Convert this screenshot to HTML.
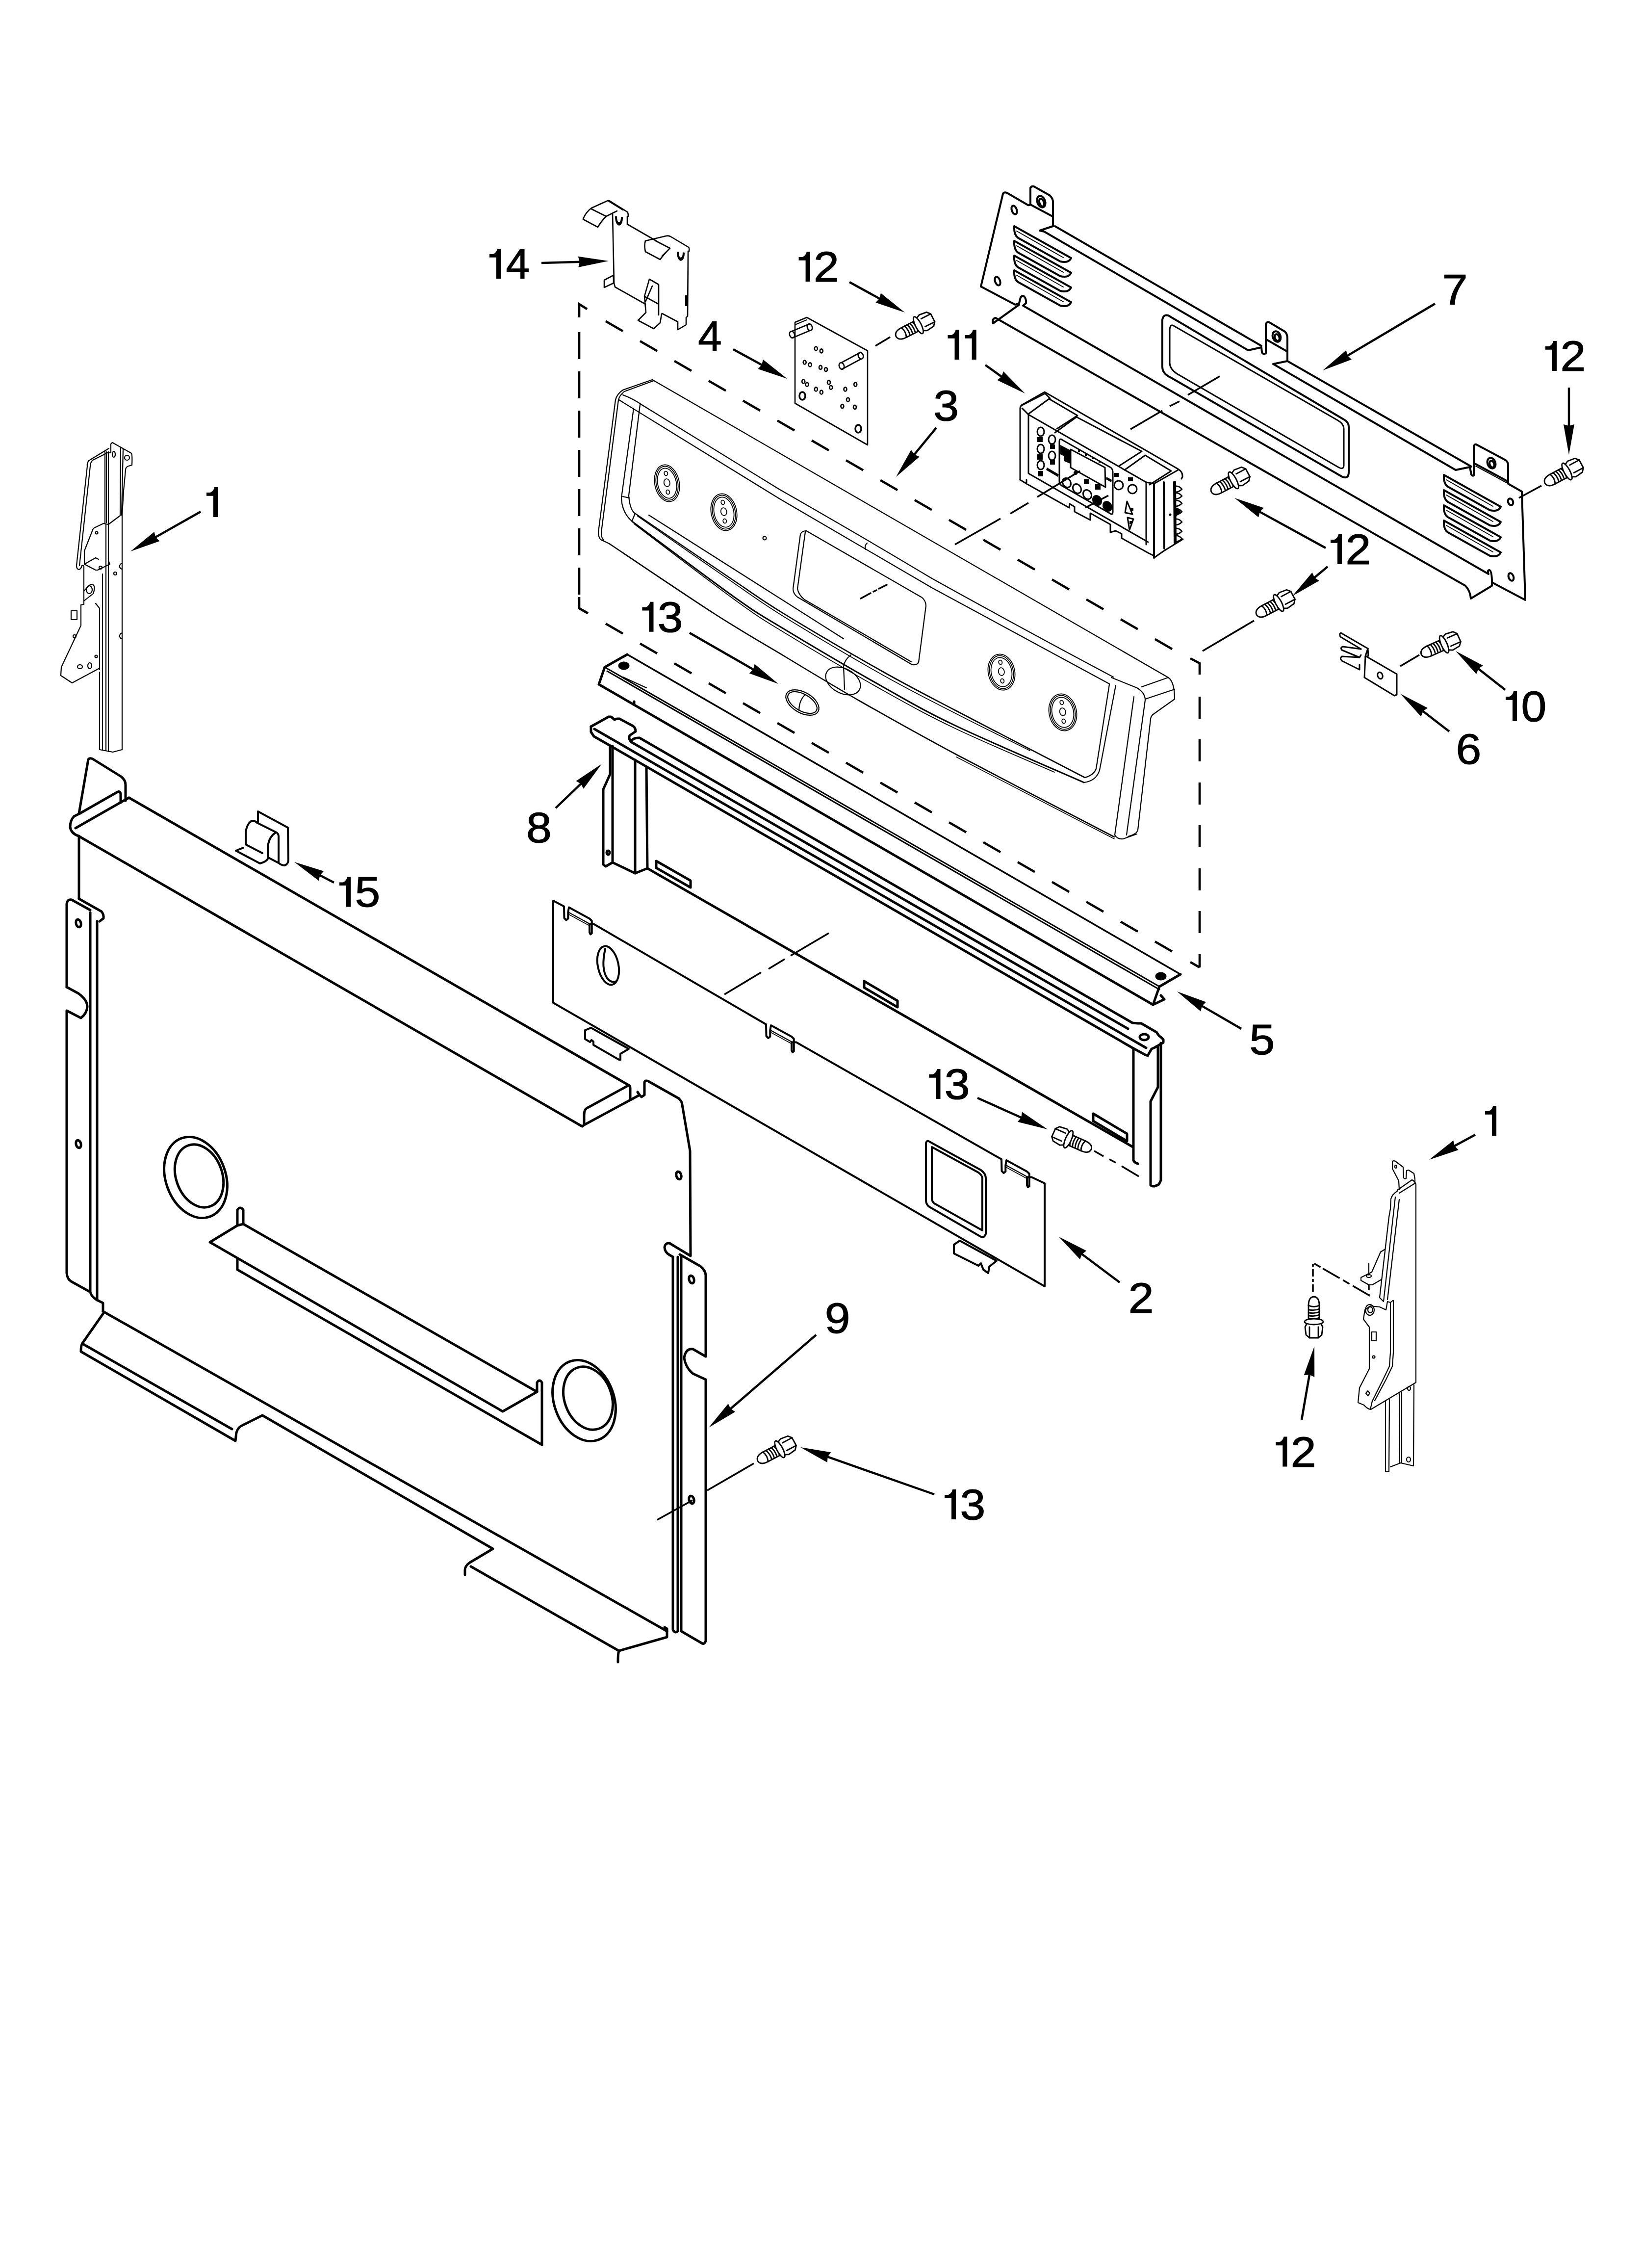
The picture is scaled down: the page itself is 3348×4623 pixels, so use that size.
<!DOCTYPE html>
<html><head><meta charset="utf-8"><style>
html,body{margin:0;padding:0;background:#fff;}
svg{display:block;}
text{font-family:"Liberation Sans",sans-serif;fill:#000;stroke:#000;stroke-width:1.2;}
.g1{fill:#000;stroke:none;}
.k{fill:none;stroke:#000;stroke-width:5;stroke-linejoin:round;stroke-linecap:round;}
.m{fill:none;stroke:#000;stroke-width:3.5;stroke-linejoin:round;stroke-linecap:round;}
.t{fill:none;stroke:#000;stroke-width:2.5;stroke-linejoin:round;stroke-linecap:round;}
.ar{fill:none;stroke:#000;stroke-width:4.5;}
.ah{fill:#000;stroke:none;}
.dl{fill:none;stroke:#000;stroke-width:4;stroke-dasharray:55 26;}
.dd{fill:none;stroke:#000;stroke-width:4.6;}
</style></head><body>
<svg width="3348" height="4623" viewBox="0 0 3348 4623">
<path class="g1" d="M1012.0,568 L1021.1,568 L1021.1,507 L1014.2,507 Q1012.8,514.5 1005.7,518 L998.0,518 L998.0,524.7 L1012.0,524.7 Z"/><text transform="translate(1031.4 568) scale(1.0 1)" font-size="87">4</text><path class="g1" d="M435.0,1054 L444.1,1054 L444.1,993 L437.2,993 Q435.8,1000.5 428.7,1004 L421.0,1004 L421.0,1010.7 L435.0,1010.7 Z"/><text transform="translate(1423.3 716) scale(1.0 1)" font-size="87">4</text><path class="g1" d="M1642.6,574 L1651.7,574 L1651.7,513 L1644.8,513 Q1643.4,520.5 1636.3,524 L1628.6,524 L1628.6,530.7 L1642.6,530.7 Z"/><text transform="translate(1659.0 574) scale(1.07 1)" font-size="87">2</text><path class="g1" d="M1946.5,733 L1955.6,733 L1955.6,672 L1948.7,672 Q1947.3,679.5 1940.2,683 L1932.5,683 L1932.5,689.7 L1946.5,689.7 Z"/><path class="g1" d="M1981.6,733 L1990.7,733 L1990.7,672 L1983.8,672 Q1982.4,679.5 1975.3,683 L1967.6,683 L1967.6,689.7 L1981.6,689.7 Z"/><text transform="translate(1903.3 857) scale(1.07 1)" font-size="87">3</text><text transform="translate(2940.7 621) scale(1.07 1)" font-size="87">7</text><path class="g1" d="M3165.0,756 L3174.1,756 L3174.1,695 L3167.2,695 Q3165.8,702.5 3158.7,706 L3151.0,706 L3151.0,712.7 L3165.0,712.7 Z"/><text transform="translate(3181.4 756) scale(1.07 1)" font-size="87">2</text><path class="g1" d="M2727.0,1150 L2736.1,1150 L2736.1,1089 L2729.2,1089 Q2727.8,1096.5 2720.7,1100 L2713.0,1100 L2713.0,1106.7 L2727.0,1106.7 Z"/><text transform="translate(2743.4 1150) scale(1.07 1)" font-size="87">2</text><path class="g1" d="M3084.0,1470 L3093.1,1470 L3093.1,1409 L3086.2,1409 Q3084.8,1416.5 3077.7,1420 L3070.0,1420 L3070.0,1426.7 L3084.0,1426.7 Z"/><text transform="translate(3101.4 1470) scale(1.07 1)" font-size="87">0</text><text transform="translate(2968.6 1556.5) scale(1.07 1)" font-size="87">6</text><path class="g1" d="M1323.4,1287.7 L1332.5,1287.7 L1332.5,1226.7 L1325.6,1226.7 Q1324.2,1234.2 1317.1,1237.7 L1309.4,1237.7 L1309.4,1244.4 L1323.4,1244.4 Z"/><text transform="translate(1340.8 1287.7) scale(1.07 1)" font-size="87">3</text><text transform="translate(1072.9 1716.8) scale(1.07 1)" font-size="87">8</text><path class="g1" d="M706.0,1848.4 L715.1,1848.4 L715.1,1787.4 L708.2,1787.4 Q706.8,1794.9 699.7,1798.4 L692.0,1798.4 L692.0,1805.1 L706.0,1805.1 Z"/><text transform="translate(723.4 1848.4) scale(1.07 1)" font-size="87">5</text><text transform="translate(2547.5 2148.6) scale(1.07 1)" font-size="87">5</text><path class="g1" d="M1908.4,2240 L1917.5,2240 L1917.5,2179 L1910.6,2179 Q1909.2,2186.5 1902.1,2190 L1894.4,2190 L1894.4,2196.7 L1908.4,2196.7 Z"/><text transform="translate(1925.8 2240) scale(1.07 1)" font-size="87">3</text><path class="g1" d="M3042.0,2315 L3051.1,2315 L3051.1,2254 L3044.2,2254 Q3042.8,2261.5 3035.7,2265 L3028.0,2265 L3028.0,2271.7 L3042.0,2271.7 Z"/><text transform="translate(2300.8 2676) scale(1.07 1)" font-size="87">2</text><text transform="translate(1681.8 2717) scale(1.07 1)" font-size="87">9</text><path class="g1" d="M2615.3,2989.5 L2624.4,2989.5 L2624.4,2928.5 L2617.5,2928.5 Q2616.1,2936.0 2609.0,2939.5 L2601.3,2939.5 L2601.3,2946.2 L2615.3,2946.2 Z"/><text transform="translate(2631.7 2989.5) scale(1.07 1)" font-size="87">2</text><path class="g1" d="M1940.0,3097 L1949.1,3097 L1949.1,3036 L1942.2,3036 Q1940.8,3043.5 1933.7,3047 L1926.0,3047 L1926.0,3053.7 L1940.0,3053.7 Z"/><text transform="translate(1957.4 3097) scale(1.07 1)" font-size="87">3</text><path d="M1104.0,536.0 L1184.0,533.7" class="ar"/><path d="M1241.0,532.0 L1179.3,544.8 L1182.0,533.7 L1178.7,522.8 Z" class="ah"/><path d="M409.0,1043.0 L315.6,1095.9" class="ar"/><path d="M266.0,1124.0 L314.5,1083.9 L317.3,1094.9 L325.4,1103.0 Z" class="ah"/><path d="M1495.0,712.0 L1555.0,744.7" class="ar"/><path d="M1605.0,772.0 L1545.3,752.0 L1553.2,743.7 L1555.8,732.7 Z" class="ah"/><path d="M1732.0,575.0 L1795.0,609.6" class="ar"/><path d="M1845.0,637.0 L1785.4,616.8 L1793.3,608.6 L1795.9,597.5 Z" class="ah"/><path d="M2009.0,744.0 L2043.7,768.8" class="ar"/><path d="M2090.0,802.0 L2033.2,774.8 L2042.0,767.7 L2046.0,757.0 Z" class="ah"/><path d="M1909.0,872.0 L1863.1,927.9" class="ar"/><path d="M1827.0,972.0 L1857.8,917.1 L1864.4,926.4 L1874.8,931.0 Z" class="ah"/><path d="M2926.0,619.0 L2746.0,725.9" class="ar"/><path d="M2697.0,755.0 L2744.7,713.9 L2747.7,724.9 L2755.9,732.8 Z" class="ah"/><path d="M3199.0,790.0 L3199.0,870.0" class="ar"/><path d="M3199.0,927.0 L3188.0,865.0 L3199.0,868.0 L3210.0,865.0 Z" class="ah"/><path d="M2703.0,1117.0 L2567.0,1042.4" class="ar"/><path d="M2517.0,1015.0 L2576.7,1035.2 L2568.7,1043.4 L2566.1,1054.5 Z" class="ah"/><path d="M2707.0,1155.0 L2678.8,1178.5" class="ar"/><path d="M2635.0,1215.0 L2675.6,1166.9 L2680.3,1177.2 L2689.7,1183.8 Z" class="ah"/><path d="M3069.0,1406.0 L3012.9,1362.1" class="ar"/><path d="M2968.0,1327.0 L3023.6,1356.5 L3014.5,1363.3 L3010.1,1373.9 Z" class="ah"/><path d="M2955.0,1491.0 L2900.2,1448.8" class="ar"/><path d="M2855.0,1414.0 L2910.8,1443.1 L2901.7,1450.0 L2897.4,1460.5 Z" class="ah"/><path d="M1406.0,1290.0 L1537.6,1365.6" class="ar"/><path d="M1587.0,1394.0 L1527.8,1372.6 L1535.8,1364.6 L1538.7,1353.6 Z" class="ah"/><path d="M1133.0,1647.0 L1185.8,1596.4" class="ar"/><path d="M1227.0,1557.0 L1189.8,1607.8 L1184.4,1597.8 L1174.6,1591.9 Z" class="ah"/><path d="M681.0,1799.0 L650.6,1783.2" class="ar"/><path d="M600.0,1757.0 L660.1,1775.8 L652.4,1784.2 L650.0,1795.3 Z" class="ah"/><path d="M2531.0,2097.0 L2449.3,2049.6" class="ar"/><path d="M2400.0,2021.0 L2459.1,2042.6 L2451.0,2050.6 L2448.1,2061.6 Z" class="ah"/><path d="M1993.0,2238.0 L2084.0,2278.7" class="ar"/><path d="M2136.0,2302.0 L2074.9,2286.7 L2082.1,2277.9 L2083.9,2266.6 Z" class="ah"/><path d="M3008.0,2313.0 L2964.1,2336.8" class="ar"/><path d="M2914.0,2364.0 L2963.3,2324.8 L2965.9,2335.9 L2973.7,2344.1 Z" class="ah"/><path d="M2283.0,2614.0 L2204.6,2555.2" class="ar"/><path d="M2159.0,2521.0 L2215.2,2549.4 L2206.2,2556.4 L2202.0,2567.0 Z" class="ah"/><path d="M1664.0,2721.0 L1488.2,2872.8" class="ar"/><path d="M1445.0,2910.0 L1484.8,2861.2 L1489.7,2871.5 L1499.1,2877.8 Z" class="ah"/><path d="M2654.0,2894.0 L2670.3,2800.2" class="ar"/><path d="M2680.0,2744.0 L2680.2,2807.0 L2669.9,2802.1 L2658.6,2803.2 Z" class="ah"/><path d="M1905.0,3046.0 L1685.8,2968.9" class="ar"/><path d="M1632.0,2950.0 L1694.1,2960.2 L1687.7,2969.6 L1686.8,2980.9 Z" class="ah"/>
<!-- p01a.svg -->
<g class="t" style="stroke-width:2.2">
<path d="M223,923 L226,923 L226,905 L229,902 L268,924 Q270,928 269,948 L262,950 Q256,952 256,958 L252,1000 L249,1050 L249,1528 L230,1533 L203,1528 L203,1370"/>
<path d="M222,914 L181,939 Q177,944 178,950 L156,1153 Q156,1160 161,1161 Q166,1159 167,1153 Q170,1151 171,1155 L171,1232 L165,1233 L165,1275 L157,1292 L125,1360 L124,1377 L147,1392 L203,1362"/>
<path d="M221,922 L189,938 Q184,943 184,950 L162,1153"/>
<path d="M214,921 L214,1066"/>
<path d="M217,921 L217,1065"/>
<path d="M221,921 L221,1068"/>
<path d="M209,1170 L209,1528"/>
<path d="M216,1068 L216,1530"/>
<path d="M221,1068 L221,1532"/>
<path d="M246,913 L245,1050"/>
<path d="M251,915 L248,1050"/>
<path d="M245,1051 L221,1069 L211,1067 L192,1076 Q189,1079 189,1080 L172,1123 L172,1150 L195,1162 L199,1162 L224,1150 L221,1143"/>
<path d="M172,1150 L195,1137 L201,1140"/>
<path d="M171,1225 L190,1210 Q195,1196 190,1192 Q185,1190 180,1195 L171,1205"/>
<path d="M203,1365 L203,1240 L195,1230"/>
<circle cx="197" cy="1086" r="2.5"/>
<circle cx="205" cy="1157" r="3"/>
<circle cx="235" cy="1169" r="3"/>
<ellipse cx="182" cy="1202" rx="6" ry="8"/>
<rect x="145" y="1245" width="12" height="18"/>
<circle cx="152" cy="1297" r="3"/>
<circle cx="196" cy="1338" r="2.5"/>
<ellipse cx="163" cy="1359" rx="5" ry="4"/>
<ellipse cx="183" cy="1357" rx="4" ry="6"/>
<path d="M249,1148 Q243,1150 244,1156 Q246,1160 249,1160"/>
<path d="M249,1290 Q243,1292 244,1298 Q246,1302 249,1302"/>
<ellipse cx="232" cy="926" rx="3" ry="6"/>
<circle cx="259" cy="933" r="5"/>
</g>
<!-- p01b.svg -->
<g class="t" style="stroke-width:2.2">
<path d="M2853,2425 L2852,2407 L2839,2382 L2839,2368 Q2841,2365 2845,2367 L2861,2379 L2862,2401 Q2864,2404 2867,2402 L2868,2386 L2872,2385 L2883,2392 L2885,2404 L2885,2412"/>
<path d="M2849,2426 L2879,2405 Q2885,2408 2887,2414 L2887,2818 L2795,2873 Q2788,2872 2781,2864"/>
<path d="M2853,2432 L2885,2412"/>
<ellipse cx="2846" cy="2378" rx="2" ry="3"/>
<path d="M2850,2427 Q2838,2435 2836,2444 L2835,2464 L2832,2481 L2813,2645 L2820,2652"/>
<path d="M2845,2440 L2821,2653"/>
<path d="M2853,2445 L2829,2649"/>
<path d="M2823,2547 L2815,2552 L2797,2593 L2775,2604 L2775,2610 L2791,2619 L2798,2619 L2817,2608"/>
<path d="M2791,2575 L2791,2599"/><ellipse cx="2791" cy="2601" rx="5" ry="3"/>
<path d="M2840,2651 L2835,2655 L2829,2653 L2826,2670 L2813,2664 L2794,2662 L2783,2670 L2780,2689 L2792,2705 L2792,2790 L2772,2829 L2769,2859 L2781,2864"/>
<ellipse cx="2793" cy="2670" rx="9" ry="11"/><ellipse cx="2794" cy="2670" rx="5" ry="6"/>
<path d="M2835,2655 L2835,2757 L2833,2785 L2820,2812 L2798,2856 L2794,2873"/>
<path d="M2841,2651 L2841,2757 L2839,2785 L2826,2812 L2803,2855"/>
<rect x="2797" y="2715" width="9" height="18"/>
<circle cx="2801" cy="2766" r="2.5"/>
<path d="M2789,2835 L2793,2840 L2789,2845 L2785,2840 Z"/>
<path d="M2825,2857 L2825,3000 L2832,3000 L2833,2853"/>
<path d="M2853,2841 L2854,2982 M2858,2838 L2858,2982"/>
<path d="M2883,2823 L2882,2988 L2856,2982 L2835,2990"/>
<ellipse cx="2873" cy="2830" rx="3" ry="4"/>
<ellipse cx="2872" cy="2975" rx="4" ry="5"/>
</g>
<g class="dd" style="stroke-width:3.5">
<path d="M2677,2633 L2677,2574 L2791,2640 L2791,2619" style="stroke-dasharray:15 5 6 5 15 5 6 5 15 5 40 8 15 8 40 8 60"/>
</g>
<!-- p02.svg -->
<g class="m" style="stroke-width:4">
<path d="M1128,2044 L1128,1836 L1150,1847.5 L1150.0,1847.5 L1150.5,1871.5 L1154.6,1875.5 L1158.3,1872.5 L1158.3,1859.5 L1160.0,1849.5 L1202.0,1872.5 L1206.7,1877.0 L1206.7,1902.5 L1204.0,1904.5 L1202.0,1900.5 L1202.0,1884.0 L1211.5,1884.0 L1562,2088 L1562.0,2088.0 L1562.5,2112.0 L1566.6,2116.0 L1570.3,2113.0 L1570.3,2100.0 L1572.0,2090.0 L1614.0,2113.0 L1618.7,2117.5 L1618.7,2143.0 L1616.0,2145.0 L1614.0,2141.0 L1614.0,2124.5 L1623.5,2124.5 L2042,2363 L2042.0,2363.0 L2042.5,2387.0 L2046.6,2391.0 L2050.3,2388.0 L2050.3,2375.0 L2052.0,2365.0 L2094.0,2388.0 L2098.7,2392.5 L2098.7,2418.0 L2096.0,2420.0 L2094.0,2416.0 L2094.0,2399.5 L2103.5,2399.5 L2130,2412 L2130,2622 L1128,2044"/>
<path d="M1159,1859.5 L1202,1883.0" style="stroke-width:2.2"/><path d="M1159,1863.5 L1202,1887.0" style="stroke-width:1.5"/><path d="M1571,2100 L1614,2123.5" style="stroke-width:2.2"/><path d="M1571,2104 L1614,2127.5" style="stroke-width:1.5"/><path d="M2051,2375 L2094,2398.5" style="stroke-width:2.2"/><path d="M2051,2379 L2094,2402.5" style="stroke-width:1.5"/>
<path d="M1193,2100 L1205,2095 L1282,2138 L1265,2148 L1265,2160"/>
<path d="M1193,2100 L1193,2118 L1203,2124 L1206,2120 L1210,2123 L1210,2130 L1262,2160 L1265,2160"/>
<path d="M1945,2537 L1957,2529 L2032,2570 L2017,2582 L2015,2595"/>
<path d="M1945,2537 L1945,2555 L1995,2580 L2000,2575 L2005,2588 L2015,2595"/>
<ellipse cx="1240" cy="1968" rx="21" ry="40" transform="rotate(-12 1240 1968)"/>
<path d="M1234,1934 Q1225,1975 1238,1994 Q1247,2005 1257,2000"/>
<path d="M1888,2447 L1888,2330 Q1890,2323 1895,2327 L2000,2385 Q2010,2392 2010,2402 L2010,2515 Q2007,2524 2000,2521 L1895,2460 Q1888,2455 1888,2447 Z"/>
<path d="M1900,2442 L1900,2338 L1995,2390 Q2003,2396 2003,2402 L2003,2508 L1905,2453 Q1900,2449 1900,2442 Z"/>
</g>
<!-- p03.svg -->
<g class="t" style="stroke-width:2.2">
<path d="M1330,774 L1270,795 Q1258,803 1255,815 L1220,1085 Q1220,1095 1225,1100"/>
<path d="M1333,776 L1273,798 Q1263,806 1261,815 L1226,1085 Q1226,1097 1231,1101"/>
<path d="M1330,774 L2382,1381 Q2395,1390 2395,1425 L2350,1457 Q2346,1462 2346,1466"/><path d="M2273,1702 Q2278,1711 2290,1710 L2318,1700"/><path d="M2328,1400 L2382,1381"/>
<path d="M1270,805 Q1290,812 1310,826 L1590,998 Q1760,1095 1900,1179 Q2100,1290 2270,1380"/>
<path d="M1262,815 L1590,1017 L1900,1198 Q2090,1300 2262,1394"/>
<path d="M1270,1380 L1318,1402"/>
<path d="M2266,1381 L2318,1402 Q2335,1412 2335,1427"/><path d="M2346,1466 L2341,1509 L2320,1692 Q2318,1700 2300,1705"/>
<path d="M2335,1425 L2395,1405"/>
<path d="M2312,1420 L2273,1702"/><path d="M2335,1427 L2297,1702"/>
<path d="M2262,1395 L2235,1567 Q2230,1580 2212,1585"/>
<path d="M2275,1397 L2242,1570 Q2235,1592 2210,1595"/>
<path d="M1323,1050 L1720,1302"/>
<path d="M1768,1107 Q1762,1112 1765,1120"/>
<path d="M1735,1335 Q1722,1345 1720,1358 L1722,1405"/>
<path d="M1225,1100 L1242,1108"/>
<path d="M1242,1108 C1277.5,1131.7 1395.3,1211.7 1455,1250 C1514.7,1288.3 1550.0,1308.0 1600,1338 C1650.0,1368.0 1696.7,1396.7 1755,1430 C1813.3,1463.3 1863.8,1492.0 1950,1538 C2036.2,1584.0 2218.3,1678.0 2272,1706" style="stroke-width:2.6"/>
<path d="M1292,832 L1267,1015 Q1268,1045 1289,1063"/>
<path d="M1305,825 L1282,1010 Q1284,1038 1294,1046"/>
<path d="M1270,1012 L1283,1015"/><path d="M1294,1049 L1289,1061"/>
<path d="M1294,1046 C1328.3,1069.3 1449.0,1151.7 1500,1186 C1551.0,1220.3 1550.0,1221.5 1600,1252 C1650.0,1282.5 1741.7,1336.2 1800,1369 C1858.3,1401.8 1881.3,1413.0 1950,1449 C2018.7,1485.0 2168.3,1562.3 2212,1585" style="stroke-width:2.6"/>
<path d="M1300,1052 C1333.3,1075.2 1450.0,1156.7 1500,1191 C1550.0,1225.3 1550.0,1227.2 1600,1258 C1650.0,1288.8 1741.7,1343.2 1800,1376 C1858.3,1408.8 1900.0,1429.3 1950,1455 C2000.0,1480.7 2075.0,1517.5 2100,1530" style="stroke-width:1.8"/>
<path d="M1289,1063 C1324.2,1089.0 1448.2,1182.3 1500,1219 C1551.8,1255.7 1550.0,1252.8 1600,1283 C1650.0,1313.2 1741.7,1367.2 1800,1400 C1858.3,1432.8 1881.7,1447.5 1950,1480 C2018.3,1512.5 2166.7,1575.8 2210,1595" style="stroke-width:3"/>
<path d="M1293,1068 C1327.5,1094.0 1448.8,1187.0 1500,1224 C1551.2,1261.0 1550.0,1259.5 1600,1290 C1650.0,1320.5 1741.7,1374.3 1800,1407 C1858.3,1439.7 1891.7,1458.2 1950,1486 C2008.3,1513.8 2116.7,1559.3 2150,1574" style="stroke-width:1.8"/>
<path d="M1950,1543 L2272,1710" style="stroke-width:1.6"/>
<!-- window -->
<path d="M1632,1089 Q1635,1082 1644,1082 L1880,1218 Q1888,1225 1888,1235 L1873,1350 Q1870,1356 1860,1355 L1626,1217 Q1617,1210 1617,1200 Z"/>
<path d="M1642,1084 L1626,1200 Q1628,1212 1640,1222 L1858,1349"/>
<ellipse cx="1719" cy="1388" rx="38" ry="25" transform="rotate(28 1719 1388)"/>
<circle cx="1559" cy="1097" r="3.5"/>
<path d="M1755,1220 L1775,1209 M1781,1206 L1787,1203 M1792,1200 L1808,1192" style="stroke-width:3.5"/>
<g transform="translate(1636 1432) rotate(30)"><ellipse rx="37" ry="21"/><ellipse rx="33" ry="17"/><path d="M-3,-17 Q-8,0 2,17"/></g>
</g>
<g class="t" style="stroke-width:1.8">
<g transform="translate(1360 985) rotate(-12)"><ellipse rx="25" ry="38"/><ellipse rx="22" ry="35"/><ellipse rx="19" ry="31"/><ellipse cx="0" cy="-1" rx="6" ry="8"/><ellipse cx="2" cy="-20" rx="3.5" ry="4.5"/><ellipse cx="-2" cy="18" rx="3.5" ry="4.5"/></g>
<g transform="translate(1476 1044) rotate(-12)"><ellipse rx="26" ry="38"/><ellipse rx="23" ry="35"/><ellipse rx="20" ry="31"/><ellipse cx="0" cy="-1" rx="6" ry="8"/><ellipse cx="2" cy="-20" rx="3.5" ry="4.5"/><ellipse cx="-2" cy="18" rx="3.5" ry="4.5"/></g>
<g transform="translate(2042 1370) rotate(-12)"><ellipse rx="27" ry="37"/><ellipse rx="24" ry="34"/><ellipse rx="21" ry="30"/><ellipse cx="0" cy="-1" rx="6" ry="8"/><ellipse cx="2" cy="-20" rx="3.5" ry="4.5"/><ellipse cx="-2" cy="18" rx="3.5" ry="4.5"/></g>
<g transform="translate(2167 1452) rotate(-12)"><ellipse rx="28" ry="38"/><ellipse rx="25" ry="35"/><ellipse rx="22" ry="31"/><ellipse cx="0" cy="-1" rx="6" ry="8"/><ellipse cx="2" cy="-20" rx="3.5" ry="4.5"/><ellipse cx="-2" cy="18" rx="3.5" ry="4.5"/></g>
</g>
<!-- p04_14.svg -->
<g class="t" style="stroke-width:2.6">
<path d="M1621,657 L1645,647 L1769,715 L1769,907 L1621,822 Z"/>
<path d="M1621,662 L1645,652" style="stroke-width:2"/>
<path d="M1615,675 L1651,660 M1615,689 L1651,674"/><ellipse cx="1615" cy="682" rx="5" ry="7" transform="rotate(-20 1615 682)"/><ellipse cx="1651" cy="667" rx="5" ry="7" transform="rotate(-20 1651 667)"/>
<path d="M1716,739 L1755,718 M1716,753 L1755,732"/><ellipse cx="1716" cy="746" rx="5" ry="7" transform="rotate(-20 1716 746)"/><ellipse cx="1755" cy="725" rx="5" ry="7" transform="rotate(-20 1755 725)"/>
<ellipse cx="1663.8" cy="710.5" rx="3" ry="4"/><ellipse cx="1674.8" cy="715.4" rx="3" ry="4"/><ellipse cx="1640.7" cy="738.5" rx="3" ry="4"/><ellipse cx="1651.6" cy="743.4" rx="3" ry="4"/><ellipse cx="1673" cy="748.9" rx="3" ry="4"/><ellipse cx="1684" cy="753.2" rx="3" ry="4"/><ellipse cx="1638.2" cy="777.5" rx="3" ry="4"/><ellipse cx="1645.5" cy="783.6" rx="3" ry="4"/><ellipse cx="1663.8" cy="793.4" rx="3" ry="4"/><ellipse cx="1674.8" cy="799.5" rx="3" ry="4"/><ellipse cx="1690" cy="779.4" rx="3" ry="4"/><ellipse cx="1694.3" cy="789.7" rx="3" ry="4"/><ellipse cx="1723.5" cy="793.4" rx="3" ry="4"/><ellipse cx="1744.2" cy="783.6" rx="3" ry="4"/><ellipse cx="1729" cy="814.7" rx="3" ry="4"/><ellipse cx="1717.4" cy="828.1" rx="3" ry="4"/><ellipse cx="1743" cy="829.9" rx="3" ry="4"/>
<ellipse cx="1636" cy="807" rx="6" ry="8" style="stroke-width:3.5"/><ellipse cx="1750" cy="874" rx="6" ry="8" style="stroke-width:3.5"/>
<path d="M1249,436 L1252,577 L1254,585 L1316,620"/>
<path d="M1189,446 Q1195,432 1206,424 L1237,410 Q1240,408 1244,410 L1279,432 Q1281,434 1281,441 L1279,441 L1279,457 L1338,491"/>
<path d="M1206,426 L1236,441 L1258,430 M1236,441 Q1225,452 1219,463 M1189,447 L1219,463 M1241,410 L1270,428"/>
<path d="M1316,491 L1358,481 Q1362,480 1367,482 L1404,504 Q1406,506 1405,512 L1403,512 L1402,645 L1399,647 L1399,662 L1382,672 L1382,656 L1350,639"/>
<path d="M1337,491 L1366,506 L1350,522 M1316,491 Q1313,500 1316,513 L1346,529 M1366,506 Q1352,520 1346,529"/>
<path d="M1232,571 L1232,586 L1251,577 L1251,561 Z"/>
<path d="M1324,569 L1343,580 L1343,642 M1314,604 L1324,569 M1314,604 L1317,637 L1301,653 L1333,670 L1346,658 L1349,640 M1330,583 L1316,615 M1314,604 L1343,620"/>
</g>
<g style="fill:#000"><path d="M1254,441 Q1254,457 1262,460 Q1270,458 1270,443 L1266,442 Q1266,453 1262,453 Q1258,452 1258,441 Z"/><path d="M1380,513 Q1380,529 1388,532 Q1396,530 1396,515 L1392,514 Q1392,525 1388,525 Q1384,524 1384,513 Z"/><rect x="1397" y="602" width="4" height="22"/></g>
<!-- p05.svg -->
<g class="m" style="stroke-width:5">
<path d="M1279,1334 L2407,1986" style="stroke-width:3.5"/><path d="M2407,1986 L2364,2011 L2351,2048 L2374,2037 L2367,2029"/>
<path d="M1279,1334 L1233,1360 L1221,1395 L2351,2048"/>
<path d="M1235,1361 L2364,2011" style="stroke-width:3"/>
<path d="M1293,1430 L1293,1436"/>
<ellipse cx="1272" cy="1357" rx="9" ry="6" style="fill:#000"/>
<ellipse cx="2367" cy="1990" rx="9" ry="6" style="fill:#000"/>
</g>
<g class="t" style="stroke-width:3"><path d="M1238,1368 L2364,2017"/></g>
<!-- p06.svg -->
<g class="m" style="stroke-width:3">
<path d="M2789,1322 L2784,1337 L2848,1374 L2848,1416 L2843,1418 L2782,1381 L2784,1337"/>
<path d="M2789,1322 L2790,1337 L2784,1339"/>
<path d="M2789,1322 L2734,1290 Q2730,1292 2733,1298 L2775,1323"/>
<path d="M2775,1323 L2738,1318 Q2732,1320 2736,1325 L2772,1340 L2775,1335"/>
<path d="M2772,1340 L2736,1338 Q2731,1342 2736,1347 L2772,1365 L2772,1355"/>
<ellipse cx="2814" cy="1377" rx="5" ry="7" transform="rotate(-20 2814 1377)"/>
</g>
<g class="dd" style="stroke-width:3.5"><path d="M2855,1358 L2894,1335"/><path d="M2452,1327 L2557,1265"/><path d="M1815,687 L1785,705"/><path d="M2260,1010 L2213,1035"/><path d="M3143,990 L3097,1015"/><path d="M1537,2983 L1442,3038"/><path d="M1340,3098 L1412,3058"/><path d="M2231,2346 L2250,2357 M2262,2363 L2275,2370 M2287,2377 L2322,2398"/><path d="M1477,2027 L1552,1982"/><path d="M1567,1975 L1600,1955"/><path d="M1612,1948 L1690,1902"/></g>
<!-- p07.svg -->
<g class="m" style="stroke-width:4">
<path d="M2000,584 L2045,395 Q2047,391 2053,393 L2096,418 Q2100,419 2101,415 L2101,383 Q2103,379 2108,380 L2140,398 Q2147,404 2147,412 L2147,461"/>
<path d="M2101,417 L2144,440"/>
<ellipse cx="2123" cy="411" rx="8" ry="12" transform="rotate(-20 2123 411)"/><ellipse cx="2124" cy="413" rx="4.5" ry="8" transform="rotate(-20 2124 413)"/>
<ellipse cx="2068" cy="428" rx="5" ry="9" transform="rotate(-20 2068 428)"/><ellipse cx="2034" cy="573" rx="5" ry="9" transform="rotate(-20 2034 573)"/>
<path d="M2151,461 L2572,705"/>
<path d="M2147,461 L2120,470 L2129,472 L2545,714 L2572,708 L2573,718 Q2576,724 2581,720 L2581,661 Q2583,655 2588,657 L2620,676 Q2625,681 2625,690 L2625,736 L2596,742 L2603,746 L2968,958 L2997,952 L3000,967 Q3002,971 3005,969 L3005,910 Q3006,905 3010,906 L3070,938 Q3075,942 3075,948 L3075,986 L3103,1002 L3110,1223 L3042,1187 L3042,1194 L2999,1220 Q2998,1205 2988,1194 L2030,648 Q2022,650 2025,659"/>
<path d="M2625,736 L3000,951"/>
<path d="M2582,692 L2622,715"/><path d="M3009,946 L3072,980"/><path d="M3009,950 L3072,984" style="stroke-width:2"/>
<ellipse cx="2603" cy="686" rx="8" ry="11" transform="rotate(-20 2603 686)"/><ellipse cx="2604" cy="688" rx="4.5" ry="7" transform="rotate(-20 2604 688)"/>
<ellipse cx="3041" cy="944" rx="8" ry="11" transform="rotate(-20 3041 944)"/><ellipse cx="3042" cy="946" rx="4.5" ry="7" transform="rotate(-20 3042 946)"/>
<ellipse cx="3080" cy="1023" rx="5" ry="7" transform="rotate(-20 3080 1023)"/><ellipse cx="3081" cy="1176" rx="5" ry="8" transform="rotate(-20 3081 1176)"/>
<path d="M2000,584 L2070,621 L2078,618 L2081,606 Q2084,602 2088,604 Q2093,610 2092,618 L2086,623 L3035,1170 Q3032,1162 3037,1162 Q3042,1164 3042,1187"/>
<path d="M2025,659 L2078,621"/>
<path d="M2382,643 L2740,855 Q2750,860 2750,870 L2750,962 Q2750,977 2737,972 L2388,770 Q2370,762 2370,748 L2370,652 Q2372,640 2382,643 Z"/>
<path d="M2393,664 L2728,857 Q2740,864 2740,874 L2740,948 Q2740,958 2730,953 L2400,762 Q2385,752 2385,740 L2385,672 Q2386,660 2393,664 Z" style="stroke-width:3"/>
<path d="M2068,461 L2184,526 Q2179,537 2162,533 L2076,485 Q2067,479 2068,461 Z"/><path d="M2073,471 L2168,525" style="stroke-width:2"/>
<path d="M2944,968 L3060,1033 Q3055,1044 3038,1040 L2952,992 Q2943,986 2944,968 Z"/><path d="M2949,978 L3044,1032" style="stroke-width:2"/>
<path d="M2068,491 L2184,556 Q2179,567 2162,563 L2076,515 Q2067,509 2068,491 Z"/><path d="M2073,501 L2168,555" style="stroke-width:2"/>
<path d="M2944,999 L3060,1064 Q3055,1075 3038,1071 L2952,1023 Q2943,1017 2944,999 Z"/><path d="M2949,1009 L3044,1063" style="stroke-width:2"/>
<path d="M2068,521 L2184,586 Q2179,597 2162,593 L2076,545 Q2067,539 2068,521 Z"/><path d="M2073,531 L2168,585" style="stroke-width:2"/>
<path d="M2944,1030 L3060,1095 Q3055,1106 3038,1102 L2952,1054 Q2943,1048 2944,1030 Z"/><path d="M2949,1040 L3044,1094" style="stroke-width:2"/>
<path d="M2068,551 L2184,616 Q2179,627 2162,623 L2076,575 Q2067,569 2068,551 Z"/><path d="M2073,561 L2168,615" style="stroke-width:2"/>
<path d="M2944,1061 L3060,1126 Q3055,1137 3038,1133 L2952,1085 Q2943,1079 2944,1061 Z"/><path d="M2949,1071 L3044,1125" style="stroke-width:2"/>
</g>
<!-- p08.svg -->
<g class="m" style="stroke-width:5">
<path d="M1205,1481 L1241,1461 L1246,1461 L1253,1467 L1258,1465 L1263,1465 L1291,1480 Q1296,1484 1296,1491 L1284,1499 Q1281,1505 1286,1511 L1288,1513 L2300,2097"/>
<path d="M1286,1511 Q1292,1503 1304,1504 L2309,2085 L2320,2086 L2327,2086 L2358,2104 L2363,2111 L2368,2115 L2372,2119 L2372,2125 L2367,2128 L2353,2136 L2348,2138 L2344,2145 L2340,2152 L2335,2150 L2311,2137"/>
<path d="M1205,1481 L1205,1492 L1211,1501 L1246,1521 L2311,2137"/>
<path d="M1212,1486 L2337,2136"/>
<path d="M1249,1521 L1249,1758 L1295,1780 L1320,1770 L2310,2338"/>
<path d="M1244,1521 L1244,1578 L1230,1609 L1230,1762 L1235,1766 L1249,1758"/>
<path d="M1295,1549 L1295,1780"/>
<path d="M1318,1563 L1320,1770"/>
<path d="M2311,2137 L2311,2365 Q2313,2370 2320,2372"/>
<path d="M2361,2133 L2361,2216 L2346,2245 L2346,2416 Q2351,2421 2363,2414 L2367,2406 L2367,2126"/>
<path d="M1338,1755 L1408,1795 L1408,1809 L1338,1769 Z"/>
<path d="M1762,2000 L1830,2040 L1830,2053 L1762,2013 Z"/>
<path d="M2229,2270 L2298,2311 L2298,2326 L2229,2285 Z"/>
<ellipse cx="2333" cy="2114" rx="9" ry="6"/>
<ellipse cx="1240" cy="1738" rx="3" ry="4"/>
</g>
<!-- p09.svg -->
<g class="k">
<path d="M161,1658 L180,1548 Q183,1544 189,1547 L247,1583 Q256,1590 256,1600 L256,1632"/>
<path d="M163,1658 L240,1614 Q246,1612 246,1620 L246,1636"/>
<path d="M154,1688 L263,1626"/>
<path d="M163,1658 L151,1664 Q143,1672 143,1686 Q145,1699 160,1704"/>
<path d="M263,1626 L1282,2212 Q1285,2213 1285,2218 L1285,2240"/>
<path d="M160,1704 L1187,2296 L1191,2293 L1191,2272 Q1191,2260 1200,2257 L1282,2212"/>
<path d="M1191,2293 L1304,2232"/>
<path d="M1300,2226 L1304,2232 L1308,2236 L1314,2232 L1314,2206 Q1316,2201 1322,2204 L1384,2239 Q1391,2246 1391,2252 L1407,2346 L1408,2560 L1365,2534 Q1356,2533 1355,2543 Q1356,2553 1365,2558 L1372,2562"/>
<path d="M161,1704 L161,1832"/>
<ellipse cx="1384" cy="2396" rx="5" ry="8" transform="rotate(-15 1384 2396)"/>
<!-- left flange -->
<path d="M161,1832 L207,1858 Q212,1864 211,1872 L203,1878"/>
<path d="M136,2012 L136,1842 Q138,1832 146,1834 L184,1855"/>
<path d="M136,2012 L160,2025 Q178,2038 178,2052 Q177,2066 165,2075 L136,2060 L136,2595 Q137,2607 145,2612 L183,2633"/>
<path d="M184,1860 L184,2633 Q185,2642 198,2650 L210,2656 L210,2673"/>
<path d="M198,1878 L198,2650"/>
<ellipse cx="160" cy="1882" rx="5" ry="8" transform="rotate(-15 160 1882)"/>
<ellipse cx="160" cy="2332" rx="5" ry="8" transform="rotate(-15 160 2332)"/>
<!-- bottom flange -->
<path d="M210,2673 L1360,3325"/>
<path d="M210,2678 L168,2738 Q165,2742 165,2755 L480,2937 L482,2920 Q486,2908 495,2905 L535,2885 L1005,3157 L958,3185 Q948,3192 948,3200 L948,3210"/>
<path d="M170,2740 L473,2913"/>
<path d="M960,3193 L1262,3365 L1360,3337 L1360,3320 L1355,3317"/>
<path d="M1262,3365 Q1260,3370 1260,3388"/>
<!-- holes -->
<ellipse cx="399" cy="2400" rx="61" ry="85" transform="rotate(-20 399 2400)"/>
<ellipse cx="406" cy="2397" rx="47" ry="66" transform="rotate(-20 406 2397)"/>
<ellipse cx="1191" cy="2855" rx="61" ry="85" transform="rotate(-20 1191 2855)"/>
<ellipse cx="1199" cy="2850" rx="48" ry="66" transform="rotate(-20 1199 2850)"/>
<!-- slot -->
<path d="M484,2497 L484,2466 Q490,2458 496,2466 L496,2495 L1095,2837 L1095,2818 Q1100,2810 1105,2818 L1105,2945 L484,2588 L484,2565"/>
<path d="M496,2495 L484,2498 L428,2532 L1025,2877 L1095,2837"/>
<!-- right flange -->
<path d="M1372,2562 L1372,3322 Q1376,3330 1382,3325 L1382,2562"/>
<path d="M1386,2557 L1428,2581 Q1439,2590 1439,2600 L1439,2765 L1413,2750 Q1398,2748 1395,2768 Q1398,2788 1413,2800 L1439,2812 L1439,3345 Q1436,3352 1432,3350 L1389,3325 L1389,2562"/>
<ellipse cx="1410" cy="2608" rx="5" ry="8" transform="rotate(-15 1410 2608)"/>
<ellipse cx="1410" cy="3057" rx="5" ry="8" transform="rotate(-15 1410 3057)"/>
</g>
<!-- p11.svg -->
<g class="t" style="stroke-width:3">
<path d="M2080,978 L2080,832 Q2081,826 2086,824 L2130,799 L2402,956 Q2412,962 2411,972 L2409,976"/>
<path d="M2097,845 L2097,965 L2341,1105"/>
<path d="M2097,845 L2337,983 L2337,1110"/>
<path d="M2084,832 L2097,845 M2084,826 L2131,802"/>
<path d="M2093,978 L2093,986 L2180,1035 L2181,1027 L2191,1033 L2191,1043 L2223,1060 L2223,1046 L2264,1069 L2264,1085 L2275,1082 L2287,1088 L2287,1097 L2341,1127 L2353,1133"/>
<path d="M2080,978 L2093,986"/>
<path d="M2337,983 L2353,986 L2402,958"/>
<path d="M2353,986 L2353,1137" style="stroke-width:4"/><path d="M2353,1137 L2373,1123 L2412,1099"/>
<path d="M2373,983 L2374,1118" style="stroke-width:4"/>

<path d="M2098,843 L2139,813 L2197,847 L2155,874"/>
<path d="M2151,882 L2195,850 L2328,920 L2283,949"/>
<path d="M2293,958 L2335,928 L2388,960 L2344,988"/>
<path d="M2131,802 L2141,812"/>
<path d="M2163,895 Q2160,895 2160,900 L2160,982 Q2160,987 2165,990 L2264,1047 Q2269,1050 2269,1044 L2269,962 Q2269,955 2263,952 Z" style="stroke-width:3"/>
<path d="M2183,916 L2253,953 L2254,993 L2183,953 Z" style="stroke-width:3"/>
<g transform="translate(2175 984) rotate(-30)"><ellipse rx="8" ry="10"/></g>
<g transform="translate(2196 996) rotate(-30)"><ellipse rx="8" ry="10"/></g>
<g transform="translate(2217 1008) rotate(-30)"><ellipse rx="8" ry="10"/></g>
<g transform="translate(2237 1020) rotate(-30)"><ellipse rx="8" ry="10" style="fill:#000"/></g>
<g transform="translate(2258 1032) rotate(-30)"><ellipse rx="8" ry="10" style="fill:#000"/></g>
<circle cx="2281" cy="989" r="9"/><circle cx="2309" cy="997" r="9"/>
<ellipse cx="2122" cy="880" rx="7" ry="9"/><ellipse cx="2122" cy="915" rx="7" ry="9"/><ellipse cx="2122" cy="948" rx="7" ry="9"/>
<ellipse cx="2145" cy="896" rx="7" ry="9"/><ellipse cx="2145" cy="929" rx="7" ry="9"/>
<path d="M2298,1022 L2309,1048 L2294,1045 Z M2299,1055 L2311,1058 L2303,1080 Z"/>
<path d="M2397,991 Q2404,990 2410,997 Q2404,1003 2397,1003 M2397,1005 Q2404,1004 2410,1011 Q2404,1017 2397,1017 M2397,1020 Q2404,1019 2410,1026 Q2404,1032 2397,1032 M2397,1037 Q2404,1036 2410,1043 Q2404,1049 2397,1049 M2397,1058 Q2404,1057 2410,1064 Q2404,1070 2397,1070 M2397,1077 Q2404,1076 2410,1083 Q2404,1089 2397,1089 M2397,1092 Q2404,1091 2410,1098 Q2404,1104 2397,1104 " style="stroke-width:2.6"/><path d="M2395,983 L2396,1106" style="stroke-width:6"/><path d="M2397,1036 L2406,1043 L2397,1052 Z" style="fill:#000"/>
</g>
<g style="fill:#000">
<path d="M2162,907 L2183,918 L2182,945 L2170,940 L2170,930 L2162,926 Z"/>
<rect x="2115" y="891" width="11" height="10"/><rect x="2115" y="926" width="11" height="11"/><rect x="2116" y="960" width="11" height="11"/>
<rect x="2141" y="906" width="10" height="9"/><rect x="2141" y="938" width="10" height="9"/>
<path d="M2135,953 L2159,967 L2157,972 L2133,958 Z"/>
<rect x="2210" y="977" width="11" height="10"/><rect x="2233" y="987" width="11" height="11"/>
<circle cx="2193" cy="964" r="4"/>
<path d="M2256,972 L2267,978 L2266,983 L2255,977 Z"/>
<rect x="2271" y="964" width="10" height="8"/><rect x="2300" y="973" width="10" height="8"/>
<rect x="2198" y="918" width="4" height="4"/><rect x="2212" y="925" width="4" height="4"/><rect x="2226" y="932" width="4" height="4"/><rect x="2240" y="939" width="4" height="4"/>
<rect x="2305" y="1035" width="6" height="6"/><rect x="2303" y="1062" width="6" height="6"/>
<circle cx="2386" cy="1049" r="2.5"/>
</g>
<g class="dd" style="stroke-width:3.5">
<path d="M1947,1110 L2040,1057"/><path d="M2060,1047 L2097,1025"/><path d="M2115,1013 L2202,960"/>
<path d="M2305,875 L2370,837"/><path d="M2385,828 L2405,818"/><path d="M2422,805 L2487,767"/>
</g>
<!-- p15.svg -->
<g class="m" style="stroke-width:4">
<path d="M526,1676 L526,1654 L587,1687 L588,1752 Q588,1762 580,1764 Q574,1764 568,1759"/>
<path d="M501,1721 L501,1697 Q503,1680 512,1674 Q518,1671 524,1677 L564,1697 Q568,1700 568,1705 L568,1759 L547,1748"/>
<path d="M562,1697 Q550,1705 547,1720 Q545,1735 547,1748 Q545,1756 530,1760 L481,1734 L496,1728"/>
<path d="M502,1722 L535,1739"/>
</g>
<!-- p_dash.svg -->
<g class="dd"><path d="M1197,630 L1181,620 L1181,647"/><path d="M1181,677 L1181,732"/><path d="M1181,757 L1181,812"/><path d="M1181,837 L1181,892"/><path d="M1181,917 L1181,972"/><path d="M1181,997 L1181,1052"/><path d="M1181,1077 L1181,1132"/><path d="M1181,1157 L1181,1212"/><path d="M1181,1217 L1181,1240 L1199,1250"/><path d="M2427,1342 L2446,1352 L2446,1375"/><path d="M2446,1420 L2446,1465"/><path d="M2446,1507 L2446,1552"/><path d="M2446,1595 L2446,1640"/><path d="M2446,1682 L2446,1727"/><path d="M2446,1770 L2446,1815"/><path d="M2446,1857 L2446,1902"/><path d="M2446,1945 L2446,1972"/></g>
<g class="dd"><path d="M1235,654.7 L1270,675.0"/><path d="M1235,1271.2 L1270,1291.5"/><path d="M1305,695.3 L1340,715.5"/><path d="M1305,1311.8 L1340,1332.0"/><path d="M1375,735.8 L1410,756.0"/><path d="M1375,1352.3 L1410,1372.5"/><path d="M1445,776.3 L1480,796.5"/><path d="M1445,1392.8 L1480,1413.0"/><path d="M1515,816.8 L1550,837.0"/><path d="M1515,1433.3 L1550,1453.5"/><path d="M1585,857.3 L1620,877.5"/><path d="M1585,1473.8 L1620,1494.0"/><path d="M1655,897.8 L1690,918.0"/><path d="M1655,1514.3 L1690,1534.5"/><path d="M1725,938.3 L1760,958.5"/><path d="M1725,1554.8 L1760,1575.0"/><path d="M1795,978.8 L1830,999.0"/><path d="M1795,1595.3 L1830,1615.5"/><path d="M1865,1019.3 L1900,1039.6"/><path d="M1865,1635.8 L1900,1656.1"/><path d="M1935,1059.8 L1970,1080.1"/><path d="M1935,1676.3 L1970,1696.6"/><path d="M2005,1100.3 L2040,1120.6"/><path d="M2005,1716.8 L2040,1737.1"/><path d="M2075,1140.8 L2110,1161.1"/><path d="M2075,1757.3 L2110,1777.6"/><path d="M2145,1181.3 L2180,1201.6"/><path d="M2145,1797.8 L2180,1818.1"/><path d="M2215,1221.8 L2250,1242.1"/><path d="M2215,1838.3 L2250,1858.6"/><path d="M2285,1262.3 L2320,1282.6"/><path d="M2285,1878.8 L2320,1899.1"/><path d="M2355,1302.8 L2390,1323.1"/><path d="M2355,1919.3 L2390,1939.6"/><path d="M1181,1240.0 L1197,1249.3"/><path d="M2427,1961.0 L2446,1972.0"/></g>

<g transform="translate(1827 686) rotate(-27) scale(1.0)" class="t" style="stroke-width:2.8"><path d="M18,-11 Q1,-11 0,0 Q1,11 18,11"/><path d="M18,-11 Q23,0 18,11"/><path d="M18,-11 L47,-11 M18,11 L47,11"/><path d="M25,-11 Q29,-2 27,9"/><path d="M31,-11 Q35,-2 33,9"/><path d="M37,-11 Q41,-2 39,9"/><path d="M43,-11 Q47,-2 45,9"/><ellipse cx="51" cy="0" rx="6" ry="19" style="fill:#fff"/><path d="M56,-15 L62,-18 L78,-16 L84,-9 L84,9 L78,16 L62,18 L56,15"/><path d="M62,-9 L84,-9 M62,9 L84,9"/></g><g transform="translate(2470 1003) rotate(-28) scale(1.0)" class="t" style="stroke-width:2.8"><path d="M18,-11 Q1,-11 0,0 Q1,11 18,11"/><path d="M18,-11 Q23,0 18,11"/><path d="M18,-11 L47,-11 M18,11 L47,11"/><path d="M25,-11 Q29,-2 27,9"/><path d="M31,-11 Q35,-2 33,9"/><path d="M37,-11 Q41,-2 39,9"/><path d="M43,-11 Q47,-2 45,9"/><ellipse cx="51" cy="0" rx="6" ry="19" style="fill:#fff"/><path d="M56,-15 L62,-18 L78,-16 L84,-9 L84,9 L78,16 L62,18 L56,15"/><path d="M62,-9 L84,-9 M62,9 L84,9"/></g><g transform="translate(3150 985) rotate(-28) scale(1.0)" class="t" style="stroke-width:2.8"><path d="M18,-11 Q1,-11 0,0 Q1,11 18,11"/><path d="M18,-11 Q23,0 18,11"/><path d="M18,-11 L47,-11 M18,11 L47,11"/><path d="M25,-11 Q29,-2 27,9"/><path d="M31,-11 Q35,-2 33,9"/><path d="M37,-11 Q41,-2 39,9"/><path d="M43,-11 Q47,-2 45,9"/><ellipse cx="51" cy="0" rx="6" ry="19" style="fill:#fff"/><path d="M56,-15 L62,-18 L78,-16 L84,-9 L84,9 L78,16 L62,18 L56,15"/><path d="M62,-9 L84,-9 M62,9 L84,9"/></g><g transform="translate(2562 1253) rotate(-28) scale(1.0)" class="t" style="stroke-width:2.8"><path d="M18,-11 Q1,-11 0,0 Q1,11 18,11"/><path d="M18,-11 Q23,0 18,11"/><path d="M18,-11 L47,-11 M18,11 L47,11"/><path d="M25,-11 Q29,-2 27,9"/><path d="M31,-11 Q35,-2 33,9"/><path d="M37,-11 Q41,-2 39,9"/><path d="M43,-11 Q47,-2 45,9"/><ellipse cx="51" cy="0" rx="6" ry="19" style="fill:#fff"/><path d="M56,-15 L62,-18 L78,-16 L84,-9 L84,9 L78,16 L62,18 L56,15"/><path d="M62,-9 L84,-9 M62,9 L84,9"/></g><g transform="translate(2898 1334) rotate(-24) scale(1.0)" class="t" style="stroke-width:2.8"><path d="M18,-11 Q1,-11 0,0 Q1,11 18,11"/><path d="M18,-11 Q23,0 18,11"/><path d="M18,-11 L47,-11 M18,11 L47,11"/><path d="M25,-11 Q29,-2 27,9"/><path d="M31,-11 Q35,-2 33,9"/><path d="M37,-11 Q41,-2 39,9"/><path d="M43,-11 Q47,-2 45,9"/><ellipse cx="51" cy="0" rx="6" ry="19" style="fill:#fff"/><path d="M56,-15 L62,-18 L78,-16 L84,-9 L84,9 L78,16 L62,18 L56,15"/><path d="M62,-9 L84,-9 M62,9 L84,9"/></g><g transform="translate(2225 2343) rotate(-156) scale(1.0)" class="t" style="stroke-width:2.8"><path d="M18,-11 Q1,-11 0,0 Q1,11 18,11"/><path d="M18,-11 Q23,0 18,11"/><path d="M18,-11 L47,-11 M18,11 L47,11"/><path d="M25,-11 Q29,-2 27,9"/><path d="M31,-11 Q35,-2 33,9"/><path d="M37,-11 Q41,-2 39,9"/><path d="M43,-11 Q47,-2 45,9"/><ellipse cx="51" cy="0" rx="6" ry="19" style="fill:#fff"/><path d="M56,-15 L62,-18 L78,-16 L84,-9 L84,9 L78,16 L62,18 L56,15"/><path d="M62,-9 L84,-9 M62,9 L84,9"/></g><g transform="translate(1545 2978) rotate(-28) scale(1.0)" class="t" style="stroke-width:2.8"><path d="M18,-11 Q1,-11 0,0 Q1,11 18,11"/><path d="M18,-11 Q23,0 18,11"/><path d="M18,-11 L47,-11 M18,11 L47,11"/><path d="M25,-11 Q29,-2 27,9"/><path d="M31,-11 Q35,-2 33,9"/><path d="M37,-11 Q41,-2 39,9"/><path d="M43,-11 Q47,-2 45,9"/><ellipse cx="51" cy="0" rx="6" ry="19" style="fill:#fff"/><path d="M56,-15 L62,-18 L78,-16 L84,-9 L84,9 L78,16 L62,18 L56,15"/><path d="M62,-9 L84,-9 M62,9 L84,9"/></g><g transform="translate(2679 2643) rotate(90) scale(1.0)" class="t" style="stroke-width:2.8"><path d="M18,-11 Q1,-11 0,0 Q1,11 18,11"/><path d="M18,-11 Q23,0 18,11"/><path d="M18,-11 L47,-11 M18,11 L47,11"/><path d="M25,-11 Q29,-2 27,9"/><path d="M31,-11 Q35,-2 33,9"/><path d="M37,-11 Q41,-2 39,9"/><path d="M43,-11 Q47,-2 45,9"/><ellipse cx="51" cy="0" rx="6" ry="19" style="fill:#fff"/><path d="M56,-15 L62,-18 L78,-16 L84,-9 L84,9 L78,16 L62,18 L56,15"/><path d="M62,-9 L84,-9 M62,9 L84,9"/></g>
</svg></body></html>
